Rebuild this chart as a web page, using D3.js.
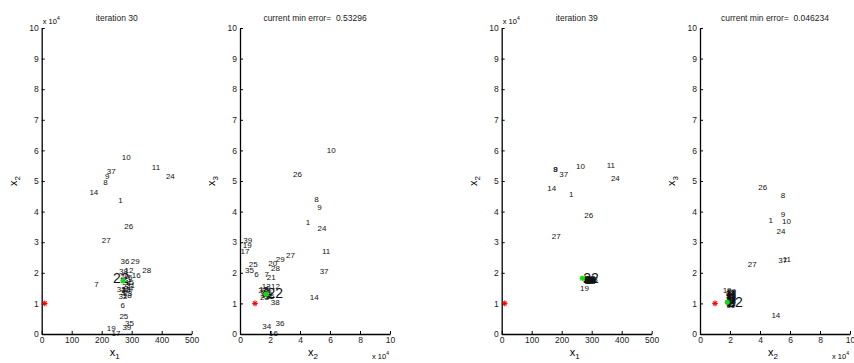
<!DOCTYPE html>
<html>
<head>
<meta charset="utf-8">
<script src="https://cdn.jsdelivr.net/npm/d3@7"></script>
<style>
  html, body { margin: 0; padding: 0; background: #fff; }
  svg { display: block; font-family: "Liberation Sans", Arial, Helvetica, sans-serif; }
  text { white-space: pre; }
</style>
</head>
<body>
<svg id="chart" width="854" height="363"></svg>
<script>
// Particle swarm snapshot: particle positions in (x1, x2, x3), x2 in units of 1e4.
const particleIds = [1,2,3,4,5,6,7,8,9,10,11,12,13,14,15,16,17,18,19,20,
                     21,22,23,24,25,26,27,28,29,30,31,32,33,34,35,36,37,38,39];

// iteration 30
const iter30X1 = [255,268,262,283,288,263,175,205,211,267,367,276,266,159,278,300,233,270,217,262,
                  270,238,272,414,259,275,200,335,297,266,281,256,250,275,278,263,217,258,269];
const iter30X2 = [4.38,1.55,1.38,1.65,1.84,0.95,1.63,4.95,5.15,5.78,5.46,2.07,1.45,4.65,1.70,1.93,0.03,1.28,0.18,1.89,
                  1.78,1.83,1.33,5.17,0.58,3.53,3.07,2.07,2.38,1.42,1.60,1.22,1.47,1.49,0.34,2.37,5.31,2.05,0.22];
const iter30X3 = [3.64,1.45,1.28,1.50,1.38,1.95,1.95,4.41,4.16,6.01,2.69,1.55,1.57,1.19,1.22,0.02,2.72,1.48,2.91,2.33,
                  1.85,1.33,1.20,3.47,2.28,5.23,2.58,2.15,2.45,1.35,1.25,1.42,1.30,0.26,2.09,0.35,2.04,1.04,3.07];

// iteration 39
const iter39X1 = [224,275,280,284,272,278,286,172,172,248,350,276,281,152,283,273,288,277,261,279,
                  285,272,282,364,274,275,167,290,280,276,287,271,283,278,285,274,192,281,277];
const iter39X2 = [4.57,1.78,1.74,1.80,1.76,1.83,1.72,5.38,5.38,5.47,5.51,1.79,1.77,4.76,1.75,1.81,1.73,1.76,1.51,1.80,
                  1.78,1.82,1.74,5.10,1.77,3.89,3.18,1.79,1.82,1.72,1.76,1.79,1.81,1.73,1.77,1.75,5.22,1.78,1.80];
const iter39X3 = [3.73,1.20,1.05,1.30,0.98,1.12,1.25,4.54,3.92,3.69,2.45,1.35,1.02,0.62,1.15,1.28,1.08,1.38,1.42,1.18,
                  1.00,1.04,1.32,3.37,1.22,4.81,2.29,1.10,1.40,1.26,0.95,1.16,1.06,1.34,1.14,1.02,2.40,1.24,1.30];

// best particle of each snapshot (label drawn large)
const bestIds = [22, 22];

// target point (red) and global best (green)
const targetX1 = 10, targetX2 = 1, targetX3 = 1;
const gbestX1 = [271, 269];
const gbestX2 = [1.73, 1.82];
const gbestX3 = [1.30, 1.04];

const titles = ["iteration 30", "current min error=  0.53296", "iteration 39", "current min error=  0.046234"];
const x1Ticks = [0, 100, 200, 300, 400, 500];
const x2Ticks = [0, 2, 4, 6, 8, 10];
const yTicks = [0, 1, 2, 3, 4, 5, 6, 7, 8, 9, 10];

const svg = d3.select("#chart");
const plotTop = 28, plotBottom = 334, axW = 150;
const y = d3.scaleLinear().domain([0, 10]).range([plotBottom, plotTop]);

const snaps = [
  {x1: iter30X1, x2: iter30X2, x3: iter30X3},
  {x1: iter39X1, x2: iter39X2, x3: iter39X3}
];

const panels = [
  {left: 41.7, snap: 0, kind: "x1x2"},
  {left: 240,  snap: 0, kind: "x2x3"},
  {left: 501.7, snap: 1, kind: "x1x2"},
  {left: 700,  snap: 1, kind: "x2x3"}
];

function asterisk(g, cx, cy, r, color) {
  const s = g.append("g").attr("stroke", color).attr("stroke-width", 1.1);
  [[0, r], [r, 0], [r * 0.7, r * 0.7], [r * 0.7, -r * 0.7]].forEach(([dx, dy]) => {
    s.append("line").attr("x1", cx - dx).attr("y1", cy - dy).attr("x2", cx + dx).attr("y2", cy + dy);
  });
}

function axisLabel(g, x, yPos, sub, rotate) {
  const t = g.append("text").attr("font-size", 11).attr("text-anchor", "middle")
    .attr("transform", rotate ? `translate(${x},${yPos}) rotate(-90)` : `translate(${x},${yPos})`);
  t.append("tspan").text("x");
  t.append("tspan").attr("font-size", 8).attr("dy", 3).text(sub);
}

function expLabel(g, x, yPos) {
  const t = g.append("text").attr("font-size", 7.5).attr("x", x).attr("y", yPos);
  t.append("tspan").text("x 10");
  t.append("tspan").attr("font-size", 5).attr("dy", -4).text("4");
}

panels.forEach((p, i) => {
  const g = svg.append("g");
  const isX1 = p.kind === "x1x2";
  const x = d3.scaleLinear().domain(isX1 ? [0, 500] : [0, 10]).range([p.left, p.left + axW]);
  const snap = snaps[p.snap];
  const hx = isX1 ? snap.x1 : snap.x2;
  const hy = isX1 ? snap.x2 : snap.x3;

  // axes (ticks pointing inward)
  const ax = g.append("g").attr("transform", `translate(0,${plotBottom})`)
    .call(d3.axisBottom(x).tickValues(isX1 ? x1Ticks : x2Ticks).tickFormat(d3.format("d"))
      .tickSizeInner(-3).tickSizeOuter(0).tickPadding(3));
  const ay = g.append("g").attr("transform", `translate(${p.left},0)`)
    .call(d3.axisLeft(y).tickValues(yTicks).tickFormat(d3.format("d"))
      .tickSizeInner(-3).tickSizeOuter(0).tickPadding(3));
  [ax, ay].forEach(a => {
    a.select(".domain").attr("stroke", "#000").attr("stroke-width", 1.3);
    a.selectAll(".tick line").attr("stroke", "#000").attr("stroke-width", 1);
    a.selectAll(".tick text").attr("font-size", 8.5).attr("fill", "#222")
      .attr("font-family", "'Liberation Sans', Arial, sans-serif");
  });

  // title
  g.append("text").attr("x", p.left + axW / 2).attr("y", 21).attr("text-anchor", "middle")
    .attr("font-size", 8.5).attr("fill", "#222").text(titles[i]);

  // axis labels
  axisLabel(g, p.left + axW / 2 - 2, 356, isX1 ? "1" : "2", false);
  axisLabel(g, p.left - 25, 181, isX1 ? "2" : "3", true);
  if (isX1) expLabel(g, p.left + 1, 24);
  else expLabel(g, p.left + 132, 359);

  // particle index labels
  const best = bestIds[p.snap];
  g.append("g").selectAll("text").data(particleIds).join("text")
    .attr("x", (d, k) => x(hx[k]))
    .attr("y", (d, k) => y(hy[k]))
    .attr("dy", "0.35em")
    .attr("font-size", d => d === best ? 14 : 8)
    .attr("fill", "#111")
    .text(d => d);

  // target (red star) and global best (green)
  asterisk(g, x(isX1 ? targetX1 : targetX2), y(isX1 ? targetX2 : targetX3), 2.8, "#ff0000");
  const gx = isX1 ? gbestX1[p.snap] : gbestX2[p.snap];
  const gy = isX1 ? gbestX2[p.snap] : gbestX3[p.snap];
  g.append("circle").attr("cx", x(gx)).attr("cy", y(gy)).attr("r", 2.3).attr("fill", "#11dd11");
  asterisk(g, x(gx), y(gy), 2.8, "#11dd11");
});
</script>
</body>
</html>
